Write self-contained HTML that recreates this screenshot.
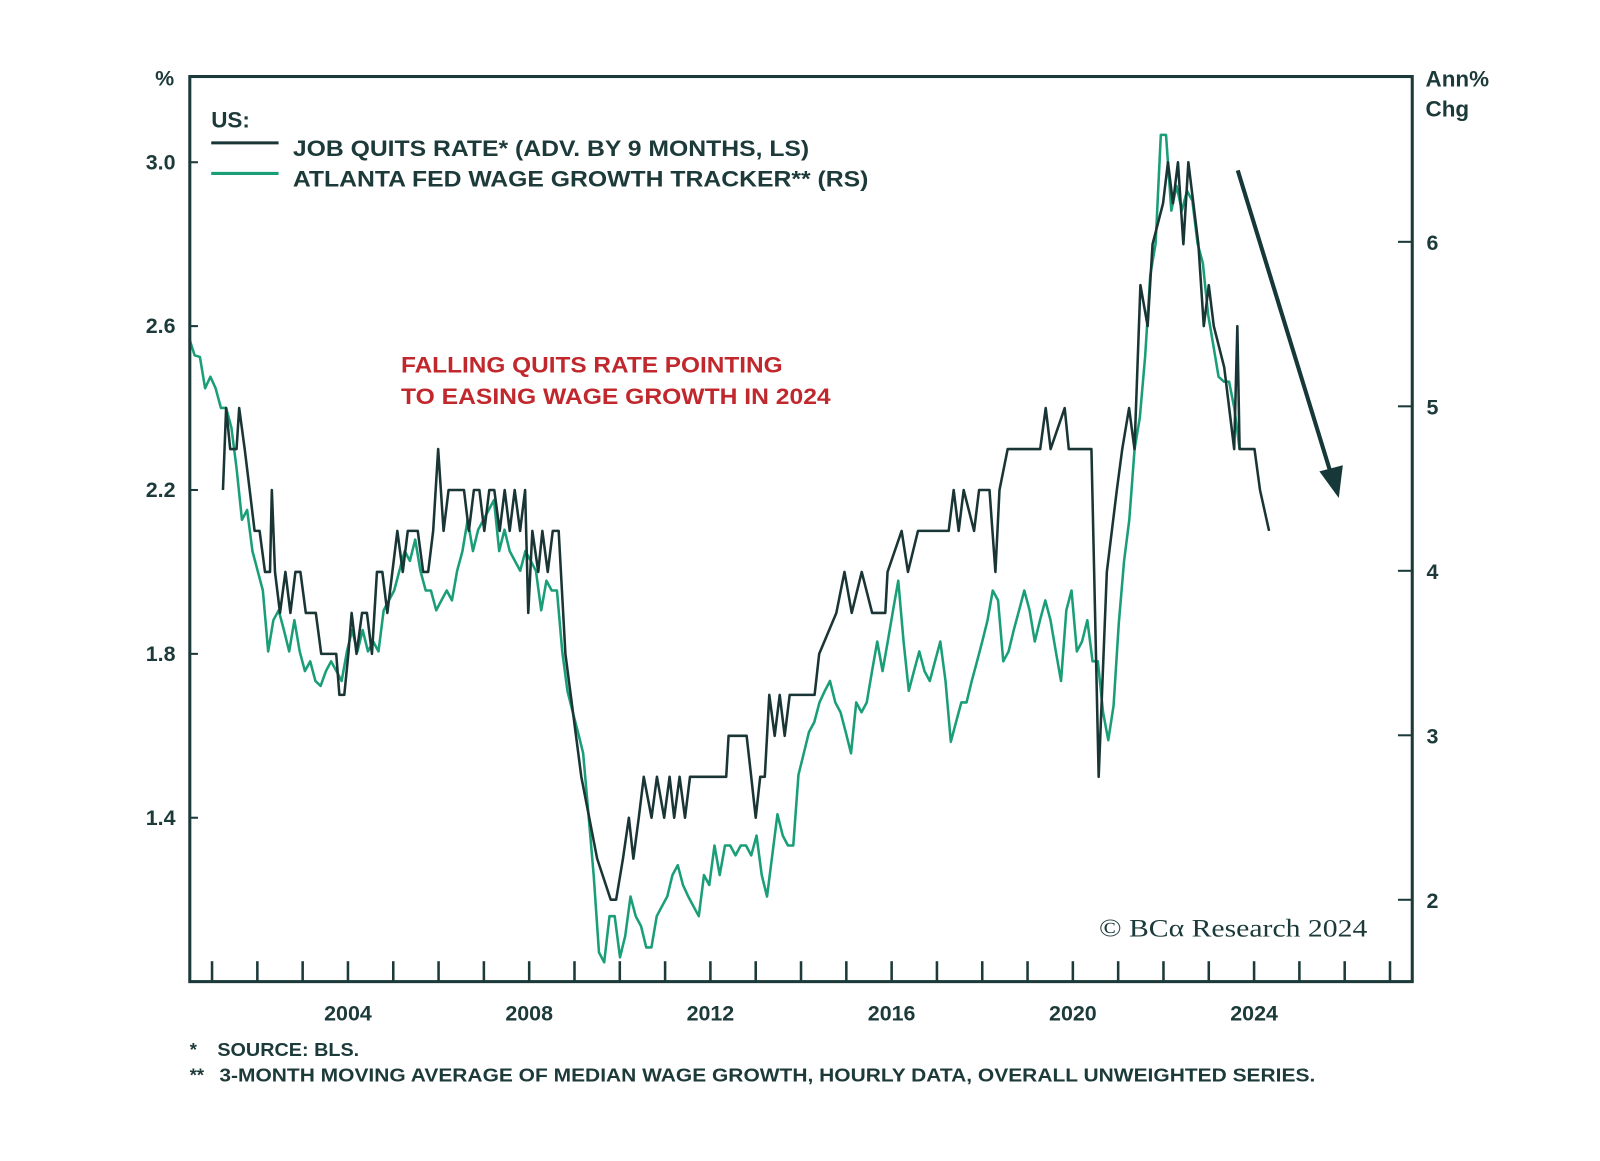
<!DOCTYPE html>
<html><head><meta charset="utf-8"><style>
html,body{margin:0;padding:0;background:#fff;}
svg{display:block;font-family:"Liberation Sans",sans-serif;}
</style></head><body>
<svg id="chart" width="1600" height="1161" viewBox="0 0 1568 1137.8" preserveAspectRatio="none" xmlns="http://www.w3.org/2000/svg">
<rect x="0" y="0" width="1568" height="1138" fill="#fff"/>
<g id="series"></g>
<rect x="186" y="75" width="1198" height="887" fill="none" stroke="#1d3a3a" stroke-width="3"/>
<g id="axes" fill="#1d3a3a" font-weight="bold" font-size="21"></g>
<text x="152" y="84" font-size="21" font-weight="bold" fill="#1d3a3a">%</text>
<text x="1397" y="85" font-size="22" font-weight="bold" fill="#1d3a3a">Ann%</text>
<text x="1397" y="114" font-size="22" font-weight="bold" fill="#1d3a3a">Chg</text>
<g font-size="22" font-weight="bold" fill="#1d3a3a">
<text x="207" y="125">US:</text>
<line x1="207" y1="140" x2="273" y2="140" stroke="#1a3535" stroke-width="3"/>
<text x="287" y="153" textLength="506" lengthAdjust="spacingAndGlyphs">JOB QUITS RATE* (ADV. BY 9 MONTHS, LS)</text>
<line x1="207" y1="170" x2="273" y2="170" stroke="#1a9e78" stroke-width="3"/>
<text x="287" y="183" textLength="564" lengthAdjust="spacingAndGlyphs">ATLANTA FED WAGE GROWTH TRACKER** (RS)</text>
</g>
<g font-size="22" font-weight="bold" fill="#c0282d">
<text x="393" y="365" textLength="374" lengthAdjust="spacingAndGlyphs">FALLING QUITS RATE POINTING</text>
<text x="393" y="396" textLength="421" lengthAdjust="spacingAndGlyphs">TO EASING WAGE GROWTH IN 2024</text>
</g>
<g>
<line x1="1213" y1="167" x2="1303" y2="460" stroke="#173838" stroke-width="4"/>
<polygon points="1312,488 1293,462 1316,456" fill="#173838"/>
</g>
<text x="1077" y="918" font-family="Liberation Serif,serif" font-size="25" fill="#1d3a3a" textLength="263" lengthAdjust="spacingAndGlyphs">© BCα Research 2024</text>
<g font-size="18" font-weight="bold" fill="#1d3a3a">
<text x="186" y="1035">*</text><text x="213" y="1035" textLength="139" lengthAdjust="spacingAndGlyphs">SOURCE: BLS.</text>
<text x="186" y="1060">**</text><text x="215" y="1060" textLength="1074" lengthAdjust="spacingAndGlyphs">3-MONTH MOVING AVERAGE OF MEDIAN WAGE GROWTH, HOURLY DATA, OVERALL UNWEIGHTED SERIES.</text>
</g>
</svg>
<script>
const leftTicks=[1.4,1.8,2.2,2.6,3.0];
const leftTickLabels=["1.4","1.8","2.2","2.6","3.0"];
const rightTicks=[2,3,4,5,6];
const xLabelYears=[2004,2008,2012,2016,2020,2024];
const quitsYears=[2001.24,2001.31,2001.40,2001.54,2001.60,2001.72,2001.83,2001.94,2002.05,2002.17,2002.28,2002.32,2002.39,2002.50,2002.62,2002.73,2002.84,2002.95,2003.07,2003.18,2003.29,2003.41,2003.52,2003.74,2003.81,2003.92,2004.01,2004.08,2004.19,2004.31,2004.42,2004.53,2004.64,2004.76,2004.87,2004.98,2005.09,2005.21,2005.32,2005.54,2005.66,2005.77,2005.88,2005.99,2006.11,2006.22,2006.33,2006.56,2006.67,2006.78,2006.90,2007.01,2007.12,2007.23,2007.35,2007.46,2007.57,2007.68,2007.80,2007.91,2007.98,2008.07,2008.20,2008.29,2008.41,2008.52,2008.65,2008.8,2009.15,2009.5,2009.8,2009.92,2010.07,2010.2,2010.3,2010.42,2010.53,2010.7,2010.82,2010.98,2011.1,2011.2,2011.32,2011.44,2011.55,2012.35,2012.4,2012.8,2012.9,2013.0,2013.1,2013.2,2013.3,2013.42,2013.53,2013.64,2013.75,2014.3,2014.4,2014.78,2014.96,2015.12,2015.34,2015.57,2015.86,2015.91,2016.22,2016.36,2016.58,2017.26,2017.37,2017.48,2017.59,2017.82,2017.93,2018.16,2018.29,2018.38,2018.56,2019.28,2019.40,2019.51,2019.82,2019.91,2020.41,2020.57,2020.75,2020.86,2020.97,2021.09,2021.24,2021.36,2021.49,2021.65,2021.76,2021.99,2022.10,2022.21,2022.32,2022.44,2022.55,2022.66,2022.77,2022.89,2023.0,2023.11,2023.34,2023.45,2023.56,2023.63,2023.68,2024.01,2024.13,2024.33];
const quitsValues=[2.2,2.4,2.3,2.3,2.4,2.3,2.2,2.1,2.1,2.0,2.0,2.2,2.0,1.9,2.0,1.9,2.0,2.0,1.9,1.9,1.9,1.8,1.8,1.8,1.7,1.7,1.8,1.9,1.8,1.9,1.9,1.8,2.0,2.0,1.9,2.0,2.1,2.0,2.1,2.1,2.0,2.0,2.1,2.3,2.1,2.2,2.2,2.2,2.1,2.2,2.2,2.1,2.2,2.2,2.1,2.2,2.1,2.2,2.1,2.2,1.9,2.1,2.0,2.1,2.0,2.1,2.1,1.8,1.5,1.3,1.2,1.2,1.3,1.4,1.3,1.4,1.5,1.4,1.5,1.4,1.5,1.4,1.5,1.4,1.5,1.5,1.6,1.6,1.5,1.4,1.5,1.5,1.7,1.6,1.7,1.6,1.7,1.7,1.8,1.9,2.0,1.9,2.0,1.9,1.9,2.0,2.1,2.0,2.1,2.1,2.2,2.1,2.2,2.1,2.2,2.2,2.0,2.2,2.3,2.3,2.4,2.3,2.4,2.3,2.3,1.5,2.0,2.1,2.2,2.3,2.4,2.3,2.7,2.6,2.8,2.9,3.0,2.9,3.0,2.8,3.0,2.9,2.8,2.6,2.7,2.6,2.5,2.4,2.3,2.6,2.3,2.3,2.2,2.1];
const wageStart=2000.5, wageEnd=2023.68;
const wageValues=[5.41,5.31,5.30,5.11,5.18,5.11,4.99,4.99,4.87,4.62,4.31,4.37,4.12,4.00,3.88,3.51,3.70,3.76,3.64,3.51,3.70,3.51,3.39,3.45,3.33,3.30,3.39,3.45,3.39,3.33,3.51,3.64,3.51,3.64,3.51,3.57,3.51,3.76,3.82,3.88,4.00,4.12,4.06,4.19,4.00,3.88,3.88,3.76,3.82,3.88,3.82,4.00,4.12,4.31,4.12,4.25,4.31,4.37,4.43,4.12,4.25,4.12,4.06,4.00,4.12,4.06,4.00,3.76,3.94,3.88,3.88,3.51,3.27,3.14,3.02,2.89,2.52,2.15,1.68,1.62,1.90,1.90,1.65,1.78,2.02,1.90,1.84,1.71,1.71,1.90,1.96,2.02,2.15,2.21,2.09,2.02,1.96,1.90,2.15,2.09,2.33,2.15,2.33,2.33,2.27,2.33,2.33,2.27,2.39,2.15,2.02,2.27,2.52,2.39,2.33,2.33,2.76,2.89,3.02,3.08,3.20,3.27,3.33,3.20,3.14,3.02,2.89,3.20,3.14,3.20,3.39,3.57,3.39,3.57,3.76,3.94,3.57,3.27,3.39,3.51,3.39,3.33,3.45,3.57,3.33,2.96,3.08,3.20,3.20,3.33,3.45,3.57,3.70,3.88,3.82,3.45,3.51,3.64,3.76,3.88,3.76,3.57,3.70,3.82,3.70,3.51,3.33,3.76,3.88,3.51,3.57,3.70,3.45,3.45,3.14,2.97,3.18,3.68,4.06,4.31,4.74,4.93,5.30,5.80,5.99,6.65,6.65,6.19,6.34,6.19,6.31,6.25,5.99,5.87,5.56,5.37,5.18,5.15,5.15,4.99,4.74];
const X0=186,X1=1384,Y0=962,Y1=75;
const xS=y=>341+(y-2004)*44.4;
const yL=v=>159+(3.0-v)*401.5;
const yR=v=>237+(6-v)*161.2;
const NS="http://www.w3.org/2000/svg";
const axes=document.getElementById('axes'), ser=document.getElementById('series');
function mk(t,a,p){const e=document.createElementNS(NS,t);for(const k in a)e.setAttribute(k,a[k]);p.appendChild(e);return e;}
leftTicks.forEach((v,i)=>{
 const y=yL(v);
 const t=mk('line',{x1:X0,y1:y,x2:X0+8,y2:y,stroke:'#1d3a3a','stroke-width':2},axes);
 
 
 const l=mk('text',{x:172,y:y+7,'text-anchor':'end'},axes);
 
 
 l.textContent=leftTickLabels[i];
});
rightTicks.forEach(v=>{
 const y=yR(v);
 const t=mk('line',{x1:X1-14,y1:y,x2:X1,y2:y,stroke:'#1d3a3a','stroke-width':2},axes);
 
 
 const l=mk('text',{x:1398,y:y+8},axes);
 
 
 l.textContent=String(v);
});
for(let yr=2001;yr<=2027;yr++){
 const x=xS(yr);
 const t=mk('line',{x1:x,y1:Y0-20,x2:x,y2:Y0,stroke:'#1d3a3a','stroke-width':2.5},axes);
 
 
}
xLabelYears.forEach(yr=>{
 const l=mk('text',{x:xS(yr),y:1000,'text-anchor':'middle'},axes);
 
 
 l.textContent=String(yr);
});
const wStep=(wageEnd-wageStart)/(wageValues.length-1);
const wp=wageValues.map((v,i)=>xS(wageStart+i*wStep).toFixed(1)+','+yR(v).toFixed(1)).join(' ');
const w=mk('polyline',{points:wp,fill:'none',stroke:'#1a9e78','stroke-width':2.5,'stroke-linejoin':'round'},ser);


const qp=quitsValues.map((v,i)=>xS(quitsYears[i]).toFixed(1)+','+yL(v).toFixed(1)).join(' ');
const q=mk('polyline',{points:qp,fill:'none',stroke:'#1a3535','stroke-width':2.5,'stroke-linejoin':'round'},ser);


</script>
</body></html>
